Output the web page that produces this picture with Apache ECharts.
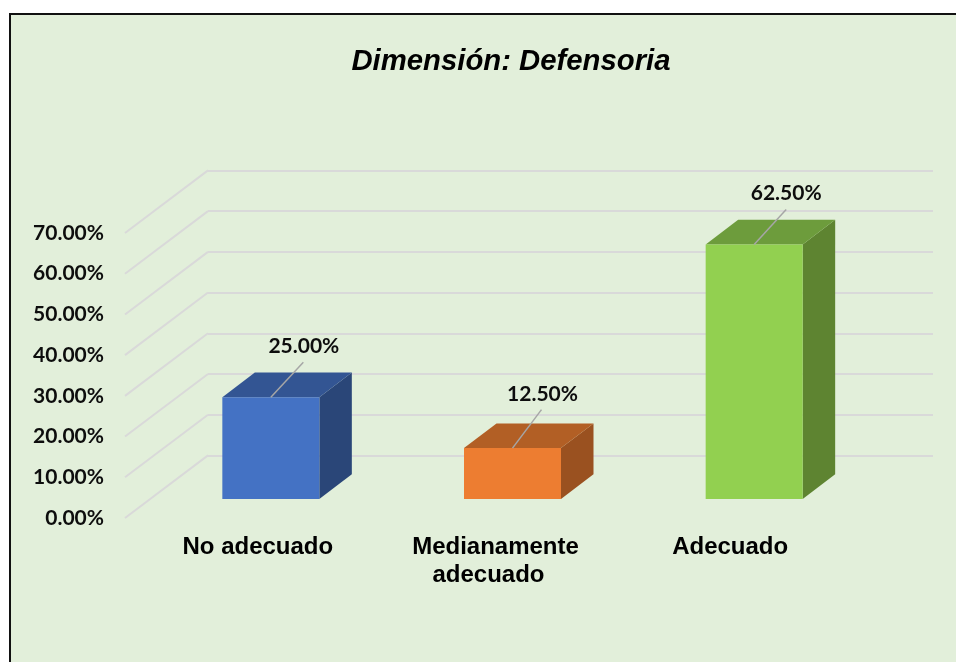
<!DOCTYPE html>
<html>
<head>
<meta charset="utf-8">
<title>Dimensión: Defensoria</title>
<script src="https://cdn.jsdelivr.net/npm/echarts@6/dist/echarts.min.js"></script>
<style>
  html, body { margin: 0; padding: 0; background: #fff; overflow: hidden; }
  #frame { position: absolute; left: 9px; top: 13px; width: 947px; height: 649px; box-sizing: border-box;
    border-left: 2px solid #111; border-top: 2px solid #111; background: #e2efda; }
  #main { position: absolute; left: 0; top: 0; width: 956px; height: 662px; }
</style>
</head>
<body>
<div id="frame"></div>
<div id="main"></div>
<script>
// datos del grafico
const categories = ['No adecuado', 'Medianamente\nadecuado', 'Adecuado'];
const values = [0.25, 0.125, 0.625];
const ticks = [0, 0.1, 0.2, 0.3, 0.4, 0.5, 0.6, 0.7];

// colores de cada barra: frente, tapa, lado
const frontColors = ['#4472c4', '#ed7d31', '#92d050'];
const topColors = ['#335593', '#b25f25', '#6d9c3c'];
const sideColors = ['#2a4678', '#9a5120', '#5e8431'];

// perspectiva, en pixeles
const wallDx = 83, wallDy = -62.6;
const floorDx = 25, floorDy = -19;
const barHalf = 48.5, barDx = 32.5, barDy = -24.7;
const leaderEnds = [[32.5, -35], [29, -38.5], [32, -35]];
const labelOffsets = [[33, -51], [30, -54], [32, -51.5]];

const numFont = 'Lato';
const pct = (v) => (v * 100).toFixed(2) + '%';

const chart = echarts.init(document.getElementById('main'));

// lineas diagonales de la pared izquierda
const renderWall = (params, api) => {
  const y = api.coord([0, api.value(0)])[1];
  const x = params.coordSys.x;
  return {
    type: 'line',
    shape: { x1: x, y1: y, x2: x + wallDx, y2: y + wallDy },
    style: { stroke: '#d9d9d9', lineWidth: 2 }
  };
};

// barra 3D: frente, tapa, lado, guia y etiqueta
const renderBar = (params, api) => {
  const i = api.value(0);
  const val = api.value(1);
  const top = api.coord([i, val]);
  const base = api.coord([i, 0]);
  const cx = top[0] + floorDx;
  const yt = top[1] + floorDy;
  const yb = base[1] + floorDy;
  const l = cx - barHalf, r = cx + barHalf;
  const noStroke = { lineWidth: 0 };
  return {
    type: 'group',
    children: [
      { type: 'polygon', shape: { points: [[r, yt], [r + barDx, yt + barDy], [r + barDx, yb + barDy], [r, yb]] },
        style: { fill: sideColors[i], ...noStroke } },
      { type: 'polygon', shape: { points: [[l, yt], [l + barDx, yt + barDy], [r + barDx, yt + barDy], [r, yt]] },
        style: { fill: topColors[i], ...noStroke } },
      { type: 'rect', shape: { x: l, y: yt, width: r - l, height: yb - yt },
        style: { fill: frontColors[i], ...noStroke } },
      { type: 'line', shape: { x1: cx, y1: yt, x2: cx + leaderEnds[i][0], y2: yt + leaderEnds[i][1] },
        style: { stroke: '#a6a6a6', lineWidth: 1.5 } },
      { type: 'text', x: cx + labelOffsets[i][0], y: yt + labelOffsets[i][1],
        style: { text: pct(val), fill: '#0d0d0d', font: 'bold 21px ' + numFont, align: 'center', verticalAlign: 'middle' } }
    ]
  };
};

chart.setOption({
  animation: false,
  title: {
    text: 'Dimensión: Defensoria',
    left: 506, top: 42, textAlign: 'center',
    textStyle: { fontFamily: 'Liberation Sans', fontWeight: 'bold', fontStyle: 'italic', fontSize: 29.3, color: '#000' }
  },
  grid: [
    { left: 125, width: 725, top: 233, height: 285 },
    { left: 208, width: 725, top: 170.5, height: 285 }
  ],
  xAxis: [
    {
      type: 'category', gridIndex: 0, data: categories,
      axisLine: { show: false }, axisTick: { show: false },
      axisLabel: {
        margin: 15, interval: 0, color: '#000',
        fontFamily: 'Liberation Sans', fontWeight: 'bold', fontSize: 24, lineHeight: 28,
        formatter: (v) => {
          if (v === categories[0]) return '{a|' + v + '}';
          if (v === categories[1]) return '{b|Medianamente}\n{c|adecuado}';
          return '{d|' + v + '}';
        },
        rich: {
          a: { padding: [0, 0, 0, 24] },
          b: { padding: [0, 0, 0, 16] },
          c: { padding: [0, 0, 0, 2] },
          d: { padding: [0, 0, 0, 2] }
        }
      }
    },
    { type: 'category', gridIndex: 1, data: categories, show: false }
  ],
  yAxis: [
    {
      type: 'value', gridIndex: 0, min: 0, max: 0.7, interval: 0.1,
      axisLine: { show: false }, axisTick: { show: false }, splitLine: { show: false },
      axisLabel: { margin: 21, padding: [7, 0, 0, 0], color: '#0d0d0d', fontFamily: numFont, fontWeight: 'bold', fontSize: 21, formatter: pct }
    },
    {
      type: 'value', gridIndex: 1, min: 0, max: 0.7, interval: 0.1,
      axisLine: { show: false }, axisTick: { show: false }, axisLabel: { show: false },
      splitLine: { show: true, lineStyle: { color: '#d9d9d9', width: 2 } }
    }
  ],
  series: [
    {
      type: 'custom', xAxisIndex: 0, yAxisIndex: 0, silent: true, clip: false, z: 1,
      renderItem: renderWall,
      encode: { y: 0 },
      data: ticks.map((t) => [t])
    },
    {
      type: 'custom', xAxisIndex: 0, yAxisIndex: 0, silent: true, clip: false, z: 2,
      renderItem: renderBar,
      encode: { x: 0, y: 1 },
      data: values.map((v, i) => [i, v])
    }
  ]
});
</script>
</body>
</html>
